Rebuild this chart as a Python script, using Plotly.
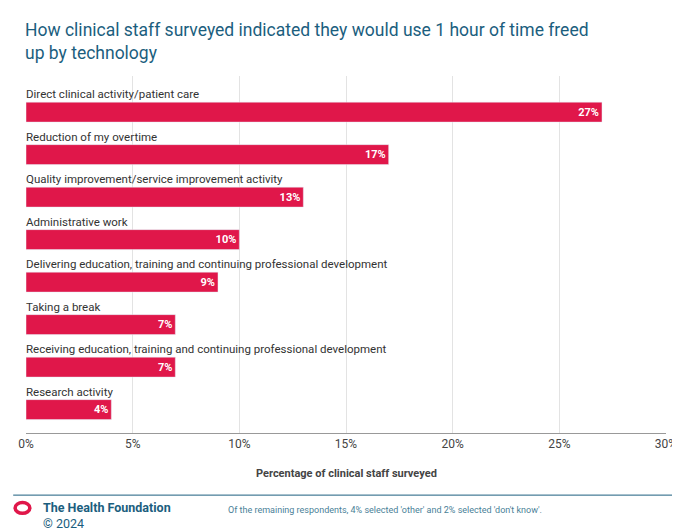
import plotly.graph_objects as go

categories = [
    "Direct clinical activity/patient care",
    "Reduction of my overtime",
    "Quality improvement/service improvement activity",
    "Administrative work",
    "Delivering education, training and continuing professional development",
    "Taking a break",
    "Receiving education, training and continuing professional development",
    "Research activity",
]
values = [27, 17, 13, 10, 9, 7, 7, 4]
tick_vals = [0, 5, 10, 15, 20, 25, 30]
tick_text = ["0%", "5%", "10%", "15%", "20%", "25%", "30%"]

red = "#e0174a"
teal = "#1b5e7e"
font = "Roboto"

fig = go.Figure(go.Bar(
    x=values, y=categories, orientation="h",
    marker=dict(color=red), width=0.47,
    text=[f"<b>{v}%</b>" for v in values], textposition="inside",
    insidetextanchor="end", textfont=dict(color="white", size=11, family=font),
    hoverinfo="skip",
))

for c in categories:
    fig.add_annotation(x=0, y=c, xref="x", yref="y", text=c, showarrow=False,
                       xanchor="left", yanchor="bottom", yshift=9, xshift=-2,
                       font=dict(size=11.5, color="#333", family=font))

fig.add_annotation(x=-0.005, y=1.03, xref="paper", yref="paper", xanchor="left", yanchor="bottom",
                   text="How clinical staff surveyed indicated they would use 1 hour of time freed<br>up by technology",
                   showarrow=False, align="left", font=dict(size=17.5, color=teal, family=font))
fig.add_annotation(x=0.5, y=-0.09, xref="paper", yref="paper", yanchor="top",
                   text="<b>Percentage of clinical staff surveyed</b>", showarrow=False,
                   font=dict(size=11, color="#444", family=font))
fig.add_shape(type="line", xref="paper", yref="paper", x0=-0.02, x1=1.03, y0=-0.174, y1=-0.174,
              line=dict(color=teal, width=1))
fig.add_shape(type="circle", xref="paper", yref="paper", x0=-0.017, x1=0.006, y0=-0.225, y1=-0.195,
              line=dict(color=red, width=3.5))
fig.add_annotation(x=0.024, y=-0.183, xref="paper", yref="paper", xanchor="left", yanchor="top",
                   text="<b>The Health Foundation</b><br>© 2024", showarrow=False, align="left",
                   font=dict(size=12.5, color=teal, family=font))
fig.add_annotation(x=0.81, y=-0.215, xref="paper", yref="paper", xanchor="right", yanchor="middle",
                   text="Of the remaining respondents, 4% selected 'other' and 2% selected 'don't know'.",
                   showarrow=False, font=dict(size=9, color="#4a7f98", family=font))

fig.update_layout(
    width=680, height=529, margin=dict(l=18, r=22, t=68, b=104),
    paper_bgcolor="white", plot_bgcolor="white", showlegend=False,
    font=dict(family=font),
    xaxis=dict(range=[0, 30], tickvals=tick_vals, ticktext=tick_text, showgrid=True,
               gridcolor="#e3e3e3", zeroline=False, showline=True, automargin=False,
               linecolor="#999", tickfont=dict(size=12, color="#444"), fixedrange=True),
    yaxis=dict(showticklabels=False, autorange=False, range=[7.55, -0.85],
               showline=False, automargin=False, fixedrange=True),
)

fig.write_html("out.html")
